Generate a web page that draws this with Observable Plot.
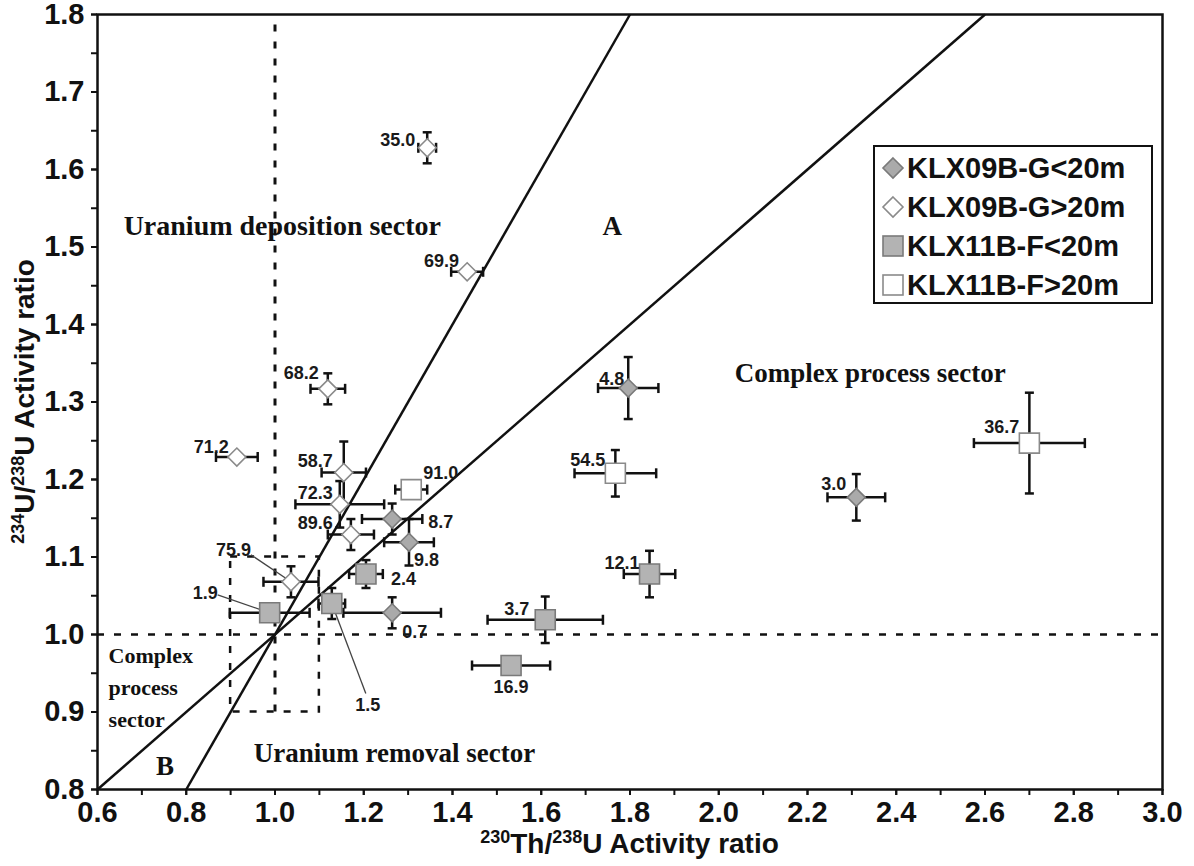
<!DOCTYPE html>
<html><head><meta charset="utf-8">
<script src="https://cdn.jsdelivr.net/npm/d3@7"></script>
<script src="https://cdn.jsdelivr.net/npm/@observablehq/plot@0.6"></script>
<style>body{margin:0;background:#fff}#chart{position:absolute;left:0;top:0}</style>
</head><body><div id="chart"></div>
<script>
// ---- data ----
const seriesNames = ["KLX09B-G<20m", "KLX09B-G>20m", "KLX11B-F<20m", "KLX11B-F>20m"];
const pointLabels = ["35.0","69.9","68.2","71.2","58.7","72.3","89.6","75.9",
                     "4.8","3.0","8.7","9.8","0.7",
                     "2.4","1.9","1.5","3.7","16.9","12.1",
                     "91.0","54.5","36.7"];
const pointSeries = [1,1,1,1,1,1,1,1, 0,0,0,0,0, 2,2,2,2,2,2, 3,3,3];
const thU = [1.343,1.433,1.119,0.914,1.155,1.146,1.171,1.036,
             1.796,2.31,1.264,1.302,1.264,
             1.205,0.988,1.128,1.609,1.532,1.844,
             1.307,1.767,2.70];
const uU  = [1.628,1.468,1.317,1.229,1.209,1.168,1.129,1.068,
             1.318,1.177,1.149,1.119,1.028,
             1.078,1.028,1.040,1.019,0.960,1.078,
             1.187,1.208,1.247];
const thUErr = [0.02,0.036,0.039,0.047,0.05,0.10,0.052,0.062,
                0.068,0.065,0.068,0.056,0.11,
                0.038,0.09,0.03,0.13,0.088,0.058,
                0.036,0.092,0.125];
const uUErr  = [0.02,0,0.02,0,0.04,0.03,0.02,0.02,
                0.04,0.03,0.02,0.03,0.02,
                0.018,0,0.02,0.03,0,0.03,
                0,0.03,0.065];
const xTickValues = [0.6,0.8,1.0,1.2,1.4,1.6,1.8,2.0,2.2,2.4,2.6,2.8,3.0];
const yTickValues = [0.8,0.9,1.0,1.1,1.2,1.3,1.4,1.5,1.6,1.7,1.8];
const lineSlopes = [1, 0.5];          // lines A and B through (1,1)
const lineNames = ["A", "B"];

// ---- styling / layout (not data) ----
const W = 1194, H = 866, ML = 97, MR = 32, MT = 14, MB = 77;
const xDomain = [0.6, 3.0], yDomain = [0.8, 1.8];
const xs = Plot.scale({x: {domain: xDomain, range: [ML, W - MR]}});
const ys = Plot.scale({y: {domain: yDomain, range: [H - MB, MT]}});
const px2x = (v, dx) => xs.invert(xs.apply(v) + dx);
const px2y = (v, dy) => ys.invert(ys.apply(v) + dy);

const labelPlacement = {
  "35.0":["end",-12,-8], "69.9":["end",-8,-11], "68.2":["end",-9,-16], "71.2":["end",-8,-10],
  "58.7":["end",-11,-11], "72.3":["end",-7,-11], "89.6":["end",-18,-11], "75.9":["end",-40,-32],
  "4.8":["end",-4,-9], "3.0":["end",-10,-13], "8.7":["start",36,3], "9.8":["start",5,18], "0.7":["start",10,19],
  "2.4":["start",25,5], "1.9":["end",-52,-20], "1.5":["middle",36,102], "3.7":["end",-16,-11],
  "16.9":["middle",0,22], "12.1":["end",-10,-11],
  "91.0":["start",12,-16], "54.5":["end",-10,-13], "36.7":["end",-10,-16]
};
const leaderEnds = {"75.9":[-40,-27], "1.9":[-52,-18], "1.5":[34,90]};

const seriesStyle = [
  {shape:"diamond", fill:"#aaaaaa", stroke:"#7a7a7a", r:9},
  {shape:"diamond", fill:"#ffffff", stroke:"#8a8a8a", r:9},
  {shape:"square", fill:"#b3b3b3", stroke:"#7a7a7a", r:10},
  {shape:"square", fill:"#ffffff", stroke:"#8a8a8a", r:10}
];

const rad = size => Math.sqrt(size / Math.PI);
const diamondSym = {draw(c, s){const r = rad(s); c.moveTo(0,-r); c.lineTo(r,0); c.lineTo(0,r); c.lineTo(-r,0); c.closePath();}};
const squareSym = {draw(c, s){const r = rad(s); c.moveTo(-r,-r); c.lineTo(r,-r); c.lineTo(r,r); c.lineTo(-r,r); c.closePath();}};
const capV = {draw(c, s){const r = rad(s); c.moveTo(0,-r); c.lineTo(0,r);}};
const capH = {draw(c, s){const r = rad(s); c.moveTo(-r,0); c.lineTo(r,0);}};

const data = pointLabels.map((label, i) => ({
  label, series: pointSeries[i], x: thU[i], y: uU[i], ex: thUErr[i], ey: uUErr[i]
}));
const withEx = data.filter(d => d.ex > 0), withEy = data.filter(d => d.ey > 0);

const refLines = lineSlopes.map((m, i) => {
  let x1 = Math.max(xDomain[0], 1 + (yDomain[0] - 1) / m);
  let x2 = Math.min(xDomain[1], 1 + (yDomain[1] - 1) / m);
  return {name: lineNames[i], x1, y1: 1 + m * (x1 - 1), x2, y2: 1 + m * (x2 - 1)};
});

const leaders = data.filter(d => leaderEnds[d.label]).map(d => ({
  x1: d.x, y1: d.y,
  x2: px2x(d.x, leaderEnds[d.label][0]), y2: px2y(d.y, leaderEnds[d.label][1])
}));

const minorX = d3.range(6, 31).map(v => v / 10);
const minorY = d3.range(16, 37).map(v => v / 20);

const serif = "'Liberation Serif', 'Times New Roman', serif";
const ink = "#111";

const marks = [
  Plot.ruleY([1.0], {stroke: ink, strokeWidth: 2.5, strokeDasharray: "7,10"}),
  Plot.ruleX([1.0], {y1: 0.9, y2: 1.8, stroke: ink, strokeWidth: 3, strokeDasharray: "7,10"}),
  Plot.rect([{x1: 0.9, x2: 1.1, y1: 0.9, y2: 1.1}], {x1:"x1", x2:"x2", y1:"y1", y2:"y2", fill: "none", stroke: ink, strokeWidth: 2.5, strokeDasharray: "7,10"}),
  Plot.link(refLines, {x1:"x1", y1:"y1", x2:"x2", y2:"y2", stroke: ink, strokeWidth: 2.5}),
  Plot.link(leaders, {x1:"x1", y1:"y1", x2:"x2", y2:"y2", stroke: "#444", strokeWidth: 1.3}),
  Plot.link(withEx, {x1: d => d.x - d.ex, x2: d => d.x + d.ex, y1: "y", y2: "y", stroke: ink, strokeWidth: 2.5}),
  Plot.link(withEy, {x1: "x", x2: "x", y1: d => d.y - d.ey, y2: d => d.y + d.ey, stroke: ink, strokeWidth: 2.5}),
  Plot.dot(withEx, {x: d => d.x - d.ex, y: "y", symbol: capV, r: 5, stroke: ink, strokeWidth: 2.5, fill: "none"}),
  Plot.dot(withEx, {x: d => d.x + d.ex, y: "y", symbol: capV, r: 5, stroke: ink, strokeWidth: 2.5, fill: "none"}),
  Plot.dot(withEy, {x: "x", y: d => d.y - d.ey, symbol: capH, r: 4.5, stroke: ink, strokeWidth: 2.5, fill: "none"}),
  Plot.dot(withEy, {x: "x", y: d => d.y + d.ey, symbol: capH, r: 4.5, stroke: ink, strokeWidth: 2.5, fill: "none"}),
  ...seriesStyle.map((s, k) => Plot.dot(data.filter(d => d.series === k), {
    x: "x", y: "y", symbol: s.shape === "diamond" ? diamondSym : squareSym, r: s.r,
    fill: s.fill, stroke: s.stroke, strokeWidth: 1.6
  })),
  ...data.map(d => {
    const [anchor, dx, dy] = labelPlacement[d.label];
    return Plot.text([d], {x: "x", y: "y", text: "label", textAnchor: anchor, dx, dy,
      fontSize: 18, fontWeight: "bold", fill: "#1a1a1a"});
  }),
  Plot.text(["Uranium deposition sector"], {x: 1.374, y: 1.527, text: d => d, textAnchor: "end", fontFamily: serif, fontSize: 28, fontWeight: "bold", fill: ink}),
  Plot.text(["A"], {x: 1.76, y: 1.527, text: d => d, fontFamily: serif, fontSize: 27, fontWeight: "bold", fill: ink}),
  Plot.text(["Complex process sector"], {x: 2.036, y: 1.337, text: d => d, textAnchor: "start", fontFamily: serif, fontSize: 27, fontWeight: "bold", fill: ink}),
  Plot.text(["Complex\nprocess\nsector"], {x: 0.625, y: 0.935, text: d => d, textAnchor: "start", lineHeight: 1.45, fontFamily: serif, fontSize: 22, fontWeight: "bold", fill: ink}),
  Plot.text(["B"], {x: 0.752, y: 0.83, text: d => d, fontFamily: serif, fontSize: 27, fontWeight: "bold", fill: ink}),
  Plot.text(["Uranium removal sector"], {x: 0.952, y: 0.847, text: d => d, textAnchor: "start", fontFamily: serif, fontSize: 27, fontWeight: "bold", fill: ink}),
  Plot.axisX({ticks: minorX, tickFormat: () => "", tickSize: 6, stroke: ink, strokeWidth: 2, label: null}),
  Plot.axisX({ticks: xTickValues, tickFormat: d => d.toFixed(1), tickSize: 6, tickPadding: 6, stroke: ink, strokeWidth: 2, fill: ink, label: null}),
  Plot.axisY({ticks: minorY, tickFormat: () => "", tickSize: 6, stroke: ink, strokeWidth: 2, label: null}),
  Plot.axisY({ticks: yTickValues, tickFormat: d => d.toFixed(1), tickSize: 6, tickPadding: 7, stroke: ink, strokeWidth: 2, fill: ink, label: null}),
  Plot.frame({stroke: ink, strokeWidth: 2.5})
];

const plot = Plot.plot({
  width: W, height: H, marginLeft: ML, marginRight: MR, marginTop: MT, marginBottom: MB,
  x: {domain: xDomain, label: null},
  y: {domain: yDomain, label: null},
  style: {fontFamily: "'Liberation Sans', Arial, sans-serif", fontSize: "29px", fontWeight: "bold", color: ink, background: "#fff", overflow: "visible"},
  marks
});
document.getElementById("chart").appendChild(plot);

// ---- enlarge tick labels, axis titles with superscripts, and the legend ----
const svg = d3.select(plot);
svg.selectAll('g[aria-label="x-axis tick label"], g[aria-label="y-axis tick label"]')
  .attr("font-size", 29).selectAll("text").attr("font-size", 29);

const sans = "'Liberation Sans', Arial, sans-serif";
function title(g, parts) {
  const t = g.append("text").attr("font-family", sans).attr("font-weight", "bold").attr("font-size", 28).attr("fill", ink).attr("text-anchor", "middle");
  parts.forEach(([s, sup]) => {
    const ts = t.append("tspan").text(s);
    if (sup) ts.attr("font-size", 18).attr("baseline-shift", "super");
  });
  return t;
}
title(svg.append("g").attr("transform", `translate(${(ML + W - MR) / 2},853)`),
  [["230", true], ["Th/", false], ["238", true], ["U Activity ratio", false]]);
title(svg.append("g").attr("transform", `translate(34,${(MT + H - MB) / 2}) rotate(-90)`),
  [["234", true], ["U/", false], ["238", true], ["U Activity ratio", false]]);

const lg = svg.append("g").attr("text-anchor", "start");
lg.append("rect").attr("x", 874).attr("y", 146).attr("width", 278).attr("height", 157)
  .attr("fill", "#fff").attr("stroke", ink).attr("stroke-width", 2);
seriesNames.forEach((name, k) => {
  const s = seriesStyle[k], cy = 168 + k * 39, cx = 893;
  if (s.shape === "diamond") {
    lg.append("path").attr("d", `M${cx},${cy - 10}L${cx + 10},${cy}L${cx},${cy + 10}L${cx - 10},${cy}Z`)
      .attr("fill", s.fill).attr("stroke", s.stroke).attr("stroke-width", 1.6);
  } else {
    lg.append("rect").attr("x", cx - 10).attr("y", cy - 10).attr("width", 20).attr("height", 20)
      .attr("fill", s.fill).attr("stroke", s.stroke).attr("stroke-width", 1.6);
  }
  lg.append("text").attr("x", 907).attr("y", cy).attr("dy", "0.36em").attr("text-anchor", "start").text(name)
    .attr("font-family", sans).attr("font-weight", "bold").attr("font-size", 29).attr("fill", ink);
});
</script>
</body></html>
